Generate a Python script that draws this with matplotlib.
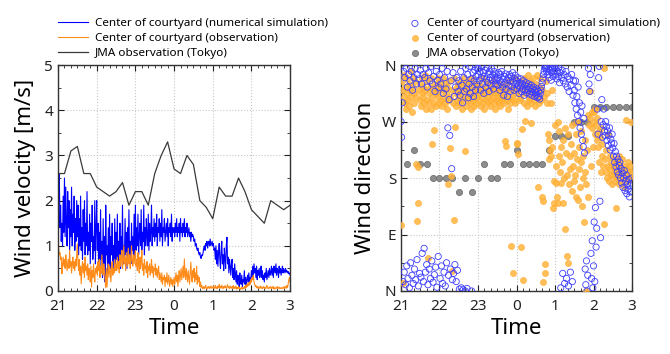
import matplotlib.pyplot as plt
from matplotlib.ticker import MultipleLocator
import numpy as np

plt.rcParams['font.family'] = ['Noto Sans', 'DejaVu Sans']

# wind velocity [m/s], one value per minute from 21:00 to 3:00
sim_speed = [
    1.3, 2.2, 2.6, 1.4, 1.9, 1.1, 1.5, 1.0, 2.1, 1.3, 2.5, 1.2, 2.3, 1.5, 1.0, 2.2, 1.4, 2.0, 0.9, 1.8, 1.2, 2.3, 1.0, 1.7, 1.3, 2.1, 0.9, 1.6, 1.1, 2.0,
    1.2, 1.9, 0.8, 1.6, 1.0, 2.1, 0.9, 1.4, 0.7, 1.8, 1.1, 2.0, 0.8, 1.5, 1.0, 2.2, 0.8, 1.3, 0.9, 1.7, 0.6, 1.5, 1.1, 1.9, 0.7, 1.2, 0.9, 2.0, 0.6, 1.4,
    2.0, 0.9, 1.5, 0.5, 1.3, 0.7, 1.8, 0.4, 1.1, 0.3, 1.6, 0.6, 1.2, 0.2, 1.9, 0.8, 1.0, 0.4, 1.4, 0.6, 1.7, 0.5, 1.2, 0.8, 1.5, 0.4, 1.0, 0.7, 1.6, 0.6,
    1.3, 0.7, 1.7, 0.6, 1.1, 0.8, 1.5, 0.5, 1.2, 0.9, 1.9, 0.6, 1.0, 0.7, 1.6, 0.8, 1.3, 0.5, 1.4, 0.9, 1.8, 0.7, 1.1, 0.6, 1.5, 0.9, 1.2, 0.8, 1.7, 0.7,
    1.9, 0.9, 1.4, 1.0, 1.7, 0.8, 1.2, 1.5, 1.0, 1.8, 0.9, 1.3, 1.1, 1.9, 0.8, 1.4, 1.0, 1.6, 1.2, 1.0, 1.7, 0.9, 1.5, 1.1, 1.3, 1.9, 1.0, 1.4, 1.2, 1.6,
    1.1, 1.5, 1.2, 1.7, 1.0, 1.4, 1.3, 1.6, 1.1, 1.5, 1.2, 1.8, 1.0, 1.4, 1.3, 1.6, 1.1, 1.3, 1.5, 1.2, 1.6, 1.0, 1.4, 1.3, 1.5, 1.2, 1.7, 1.1, 1.4, 1.3,
    1.4, 1.2, 1.5, 1.3, 1.6, 1.2, 1.4, 1.3, 1.5, 1.1, 1.6, 1.3, 1.4, 1.2, 1.5, 1.3, 1.6, 1.2, 1.4, 1.3, 1.5, 1.2, 1.3, 1.4, 1.2, 1.3, 1.1, 1.3, 1.2, 1.25,
    1.2, 1.1, 1.15, 1.0, 1.05, 0.95, 0.9, 0.95, 0.85, 0.8, 0.85, 0.75, 0.72, 0.8, 0.78, 0.85, 0.95, 1.0, 0.9, 1.05, 1.0, 1.1, 0.95, 1.05, 1.1, 1.0, 1.15, 1.0, 1.05, 1.1,
    1.0, 1.05, 0.9, 0.95, 0.7, 1.0, 0.6, 0.9, 0.55, 0.85, 1.05, 0.7, 0.5, 0.9, 1.1, 0.6, 0.8, 0.45, 0.95, 0.7, 0.5, 1.0, 1.19, 0.6, 0.75, 0.4, 0.7, 0.55, 0.35, 0.6,
    0.7, 0.3, 0.5, 0.25, 0.6, 0.4, 0.2, 0.45, 0.15, 0.35, 0.3, 0.1, 0.4, 0.2, 0.15, 0.35, 0.1, 0.25, 0.2, 0.45, 0.15, 0.3, 0.1, 0.25, 0.35, 0.2, 0.4, 0.15, 0.3, 0.25,
    0.45, 0.3, 0.55, 0.35, 0.6, 0.4, 0.5, 0.3, 0.55, 0.25, 0.45, 0.35, 0.5, 0.3, 0.4, 0.55, 0.3, 0.45, 0.25, 0.35, 0.2, 0.4, 0.3, 0.5, 0.25, 0.35, 0.45, 0.3, 0.5, 0.35,
    0.4, 0.55, 0.35, 0.5, 0.3, 0.55, 0.45, 0.4, 0.6, 0.35, 0.5, 0.45, 0.3, 0.55, 0.4, 0.5, 0.35, 0.45, 0.55, 0.4, 0.5, 0.45, 0.4, 0.5, 0.42, 0.45, 0.4, 0.43, 0.38, 0.4,
    0.35]
obs_speed = [
    1.1, 0.95, 0.8, 0.85, 0.7, 0.75, 0.38, 0.6, 0.75, 0.55, 0.7, 0.5, 0.8, 0.65, 0.45, 0.6, 0.7, 0.5, 0.9, 0.55, 0.65, 0.4, 0.6, 0.75, 0.5, 0.65, 0.45, 0.7, 0.55, 0.8,
    1.04, 0.6, 0.45, 0.7, 0.35, 0.55, 0.16, 0.5, 0.65, 0.4, 0.6, 0.3, 0.75, 0.45, 0.55, 0.35, 0.6, 0.25, 0.5, 0.4, 0.2, 0.55, 0.09, 0.45, 0.3, 0.6, 0.35, 0.2, 0.5, 0.4,
    0.55, 0.35, 0.64, 0.45, 0.7, 0.3, 0.55, 0.4, 0.8, 0.5, 0.35, 0.6, 0.45, 0.25, 0.07, 0.5, 0.09, 0.4, 0.6, 0.3, 0.55, 0.45, 0.2, 0.5, 0.65, 0.35, 0.5, 0.4, 0.7, 0.45,
    0.6, 0.45, 0.75, 0.5, 0.65, 0.4, 0.8, 0.55, 0.7, 0.9, 0.5, 0.65, 1.0, 0.6, 0.75, 0.45, 0.85, 0.7, 0.55, 0.95, 0.6, 0.8, 0.5, 0.7, 1.0, 0.65, 0.55, 0.8, 0.6, 0.75,
    0.9, 0.55, 0.7, 0.45, 0.85, 0.6, 0.4, 0.75, 0.5, 0.65, 0.9, 0.45, 0.6, 0.35, 0.7, 0.5, 0.55, 0.4, 0.65, 0.3, 0.55, 0.45, 0.6, 0.35, 0.5, 0.7, 0.4, 0.55, 0.3, 0.5,
    0.45, 0.6, 0.35, 0.5, 0.3, 0.45, 0.55, 0.25, 0.4, 0.3, 0.2, 0.4, 0.15, 0.3, 0.25, 0.35, 0.1, 0.3, 0.2, 0.4, 0.15, 0.25, 0.35, 0.1, 0.2, 0.3, 0.15, 0.25, 0.1, 0.2,
    0.3, 0.15, 0.25, 0.4, 0.2, 0.35, 0.1, 0.3, 0.45, 0.2, 0.35, 0.5, 0.25, 0.4, 0.55, 0.3, 0.71, 0.4, 0.25, 0.5, 0.35, 0.2, 0.45, 0.3, 0.15, 0.4, 0.64, 0.35, 0.2, 0.45,
    0.3, 0.5, 0.2, 0.4, 0.25, 0.55, 0.15, 0.35, 0.2, 0.3, 0.1, 0.2, 0.08, 0.12, 0.05, 0.06, 0.1, 0.05, 0.08, 0.12, 0.06, 0.04, 0.09, 0.07, 0.1, 0.05, 0.08, 0.11, 0.06, 0.09,
    0.07, 0.1, 0.05, 0.08, 0.12, 0.06, 0.09, 0.05, 0.11, 0.08, 0.15, 0.07, 0.1, 0.06, 0.13, 0.09, 0.05, 0.1, 0.07, 0.12, 0.08, 0.06, 0.1, 0.14, 0.07, 0.09, 0.05, 0.11, 0.08, 0.06,
    0.1, 0.07, 0.12, 0.05, 0.09, 0.06, 0.11, 0.04, 0.08, 0.06, 0.1, 0.05, 0.07, 0.03, 0.06, 0.09, 0.04, 0.07, 0.05, 0.1, 0.06, 0.12, 0.08, 0.15, 0.1, 0.18, 0.12, 0.2, 0.15, 0.25,
    0.2, 0.3, 0.25, 0.35, 0.2, 0.15, 0.1, 0.12, 0.08, 0.1, 0.06, 0.09, 0.05, 0.08, 0.11, 0.06, 0.09, 0.05, 0.07, 0.1, 0.06, 0.08, 0.05, 0.09, 0.12, 0.07, 0.05, 0.08, 0.06, 0.1,
    0.07, 0.05, 0.09, 0.06, 0.1, 0.04, 0.07, 0.05, 0.08, 0.06, 0.1, 0.05, 0.07, 0.09, 0.05, 0.06, 0.08, 0.05, 0.07, 0.06, 0.09, 0.05, 0.1, 0.07, 0.06, 0.12, 0.08, 0.15, 0.25, 0.3,
    0.2]
# JMA Tokyo, every 10 minutes
jma_speed = [2.6, 2.6, 3.1, 3.2, 2.6, 2.6, 2.3, 2.2, 2.1, 2.2, 2.4, 1.9, 2.2, 2.2, 1.9, 2.6, 3.0, 3.3, 2.7,
             2.6, 3.0, 2.8, 2.0, 1.85, 1.6, 2.3, 2.1, 2.1, 2.5, 2.2, 1.8, 1.65, 1.5, 2.0, 1.9, 1.8, 1.9]

# wind direction [deg, 0 = N, 90 = E], one value per minute
sim_dir = [
    270, 245, 300, 15, 350, 30, 340, 10, 355, 40, 325, 20, 345, 5, 335, 45, 350, 25, 320, 12, 340, 35, 355, 18, 330, 50, 345, 8, 338, 28,
    352, 22, 330, 60, 345, 15, 68, 340, 30, 355, 42, 325, 10, 348, 35, 335, 20, 358, 48, 330, 14, 342, 26, 318, 38, 350, 6, 336, 55, 324,
    345, 20, 330, 40, 355, 12, 315, 30, 340, 8, 322, 45, 350, 260, 25, 305, 248, 35, 335, 195, 18, 348, 28, 310, 42, 325, 15, 340, 33, 318,
    335, 3, 312, 350, 5, 328, 300, 2, 340, 318, 0, 355, 322, 4, 345, 308, 330, 358, 315, 338, 0, 325, 348, 310, 335, 352, 320, 342, 330, 355,
    345, 355, 335, 350, 320, 340, 358, 330, 348, 315, 342, 352, 325, 338, 356, 332, 345, 318, 350, 340, 328, 355, 336, 344, 322, 350, 338, 330, 346, 335,
    340, 328, 348, 335, 320, 345, 332, 350, 325, 338, 312, 342, 330, 346, 322, 336, 310, 340, 328, 345, 318, 335, 342, 326, 348, 332, 320, 338, 344, 330,
    335, 322, 340, 328, 315, 332, 325, 338, 318, 330, 322, 335, 312, 328, 320, 332, 316, 326, 322, 330, 314, 324, 318, 328, 312, 322, 316, 325, 310, 320,
    316, 312, 322, 308, 318, 310, 306, 315, 320, 326, 332, 338, 345, 350, 356, 360, 355, 350, 358, 345, 354, 340, 352, 358, 336, 348, 355, 342, 350, 358,
    355, 345, 360, 338, 350, 342, 356, 332, 348, 5, 340, 352, 28, 335, 345, 12, 330, 350, 20, 325, 342, 8, 318, 338, 30, 328, 345, 15, 312, 335,
    320, 300, 335, 290, 310, 280, 325, 270, 300, 260, 285, 250, 295, 240, 230, 275, 220, 35, 10, 48, 0, 25, 355, 330, 318, 345, 60, 20, 80, 5,
    40, 110, 15, 133, 70, 100, 290, 250, 340, 358, 143, 85, 270, 305, 245, 265, 290, 255, 248, 270, 262, 240, 255, 232, 248, 260, 225, 242, 236, 250,
    228, 215, 235, 205, 222, 198, 215, 190, 210, 185, 200, 205, 180, 195, 172, 188, 165, 180, 192, 160, 175, 185, 155, 170, 162, 178, 150, 168, 158, 172,
    180]
obs_dir = [
    105, 320, 335, 13, 310, 345, 300, 325, 290, 315, 340, 305, 330, 295, 320, 350, 310, 285, 325, 340, 300, 315, 335, 202, 310, 112, 198, 141, 320, 305,
    330, 295, 315, 340, 310, 325, 300, 345, 320, 290, 305, 335, 53, 315, 300, 325, 290, 340, 310, 234, 320, 256, 300, 330, 315, 295, 325, 310, 340, 300,
    318, 335, 305, 325, 295, 340, 310, 320, 300, 330, 315, 290, 325, 171, 305, 335, 228, 310, 183, 320, 32, 300, 340, 113, 262, 315, 295, 325, 305, 330,
    310, 320, 300, 335, 315, 290, 325, 305, 340, 223, 310, 330, 295, 320, 305, 315, 335, 300, 325, 290, 310, 340, 305, 320, 295, 330, 315, 300, 325, 310,
    320, 305, 330, 315, 295, 325, 310, 340, 300, 320, 290, 315, 335, 305, 325, 310, 300, 330, 295, 320, 315, 305, 325, 310, 335, 300, 320, 290, 315, 305,
    325, 310, 300, 330, 315, 295, 320, 305, 310, 325, 300, 315, 239, 330, 231, 305, 320, 290, 310, 335, 300, 320, 72, 310, 29, 325, 305, 340, 300, 315,
    236, 234, 219, 320, 335, 305, 310, 70, 258, 325, 18, 300, 340, 271, 315, 330, 295, 320, 345, 305, 310, 335, 268, 300, 325, 315, 340, 305, 320, 295,
    330, 310, 345, 165, 315, 300, 325, 340, 305, 320, 150, 14, 143, 310, 43, 29, 335, 300, 315, 250, 240, 210, 225, 300, 215, 320, 230, 133, 175, 140,
    265, 200, 172, 150, 270, 140, 255, 215, 190, 230, 172, 205, 240, 141, 180, 260, 99, 220, 185, 56, 250, 45, 170, 215, 195, 235, 160, 265, 200, 175,
    220, 185, 250, 150, 210, 270, 145, 195, 230, 165, 205, 255, 135, 215, 180, 110, 240, 190, 0, 170, 225, 280, 150, 265, 318, 275, 200, 285, 260, 230,
    270, 285, 250, 290, 265, 240, 275, 230, 255, 205, 245, 190, 260, 215, 235, 200, 107, 355, 210, 190, 225, 180, 200, 250, 175, 195, 215, 185, 205, 170,
    200, 185, 210, 175, 195, 133, 205, 180, 190, 215, 170, 200, 185, 195, 175, 210, 190, 165, 200, 180, 272, 185, 195, 175, 205, 190, 180, 200, 185, 270,
    190]
jma_dir = [np.nan, 202.5, 225, 202.5, 202.5, 180, 180, 180, 180, 157.5, 180, 157.5, 180, 202.5, 180, 180, 202.5, 202.5, 225,
           202.5, 202.5, 202.5, 202.5, 225, 247.5, 247.5, 247.5, 270, 270, 270,
           292.5, 292.5, 292.5, 292.5, 292.5, 292.5, 292.5]

hour_ticks = [21, 22, 23, 24, 25, 26, 27]
hour_labels = ['21', '22', '23', '0', '1', '2', '3']
dir_ticks = [0, 90, 180, 270, 360]
dir_labels = ['N', 'E', 'S', 'W', 'N']
names = ['Center of courtyard (numerical simulation)',
         'Center of courtyard (observation)',
         'JMA observation (Tokyo)']

t_sim = 21 + np.arange(len(sim_speed)) / 60
t_obs = 21 + np.arange(len(obs_speed)) / 60
t_jma = 21 + np.arange(len(jma_speed)) / 6
t_sdir = 21 + np.arange(len(sim_dir)) / 60
t_odir = 21 + np.arange(len(obs_dir)) / 60
t_jdir = 21 + np.arange(len(jma_dir)) / 6

fig = plt.figure(figsize=(6.7, 3.54), dpi=100)
ax1 = fig.add_axes([0.0866, 0.178, 0.3464, 0.638])
ax2 = fig.add_axes([0.5985, 0.178, 0.3448, 0.638])

# left: wind velocity
ax1.plot(t_sim, sim_speed, color='#0000ff', lw=0.8, label=names[0])
ax1.plot(t_obs, obs_speed, color='#ff8c1a', lw=0.8, label=names[1])
ax1.plot(t_jma, jma_speed, color='#3a3a3a', lw=0.9, label=names[2])
ax1.set_ylim(0, 5)
ax1.yaxis.set_major_locator(MultipleLocator(1))
ax1.yaxis.set_minor_locator(MultipleLocator(0.5))
ax1.set_ylabel('Wind velocity [m/s]', fontsize=16, labelpad=6)

# right: wind direction
ax2.scatter(t_sdir, sim_dir, s=20, facecolors='none', edgecolors='#3d3dff', linewidths=0.6,
            label=names[0], zorder=4)
ax2.scatter(t_odir, obs_dir, s=20, color='#ffb43c', edgecolors='#ffa726', linewidths=0.4,
            alpha=0.85, label=names[1], zorder=3)
ax2.scatter(t_jdir, jma_dir, s=20, color='#8c8c8c', edgecolors='#666666', linewidths=0.5,
            label=names[2], zorder=2)
ax2.set_ylim(0, 360)
ax2.set_yticks(dir_ticks)
ax2.set_yticklabels(dir_labels)
ax2.yaxis.set_minor_locator(MultipleLocator(45))
ax2.set_ylabel('Wind direction', fontsize=16, labelpad=4)

for ax in (ax1, ax2):
    ax.set_xlim(21, 27)
    ax.set_xticks(hour_ticks)
    ax.set_xticklabels(hour_labels)
    ax.xaxis.set_minor_locator(MultipleLocator(1 / 6))
    ax.set_xlabel('Time', fontsize=16, labelpad=3)
    ax.grid(True, which='major', color='#c8c8c8', ls=':', lw=0.8)
    ax.set_axisbelow(True)
    ax.tick_params(which='both', direction='in', top=True, right=True, labelsize=11, colors='#222222')
    ax.tick_params(which='major', length=4)
    ax.tick_params(which='minor', length=2)
    ax.tick_params(axis='x', pad=6)
    for sp in ax.spines.values():
        sp.set_color('#333333')
        sp.set_linewidth(1.0)

ax1.legend(loc='lower left', bbox_to_anchor=(0, 1.028), frameon=False, fontsize=8.4,
           handlelength=2.6, handletextpad=0.6, labelspacing=0.3, borderpad=0, borderaxespad=0)
ax2.legend(loc='lower left', bbox_to_anchor=(0.035, 1.028), frameon=False, fontsize=8.4,
           handlelength=1.0, handletextpad=0.5, labelspacing=0.3, borderpad=0, borderaxespad=0,
           scatterpoints=1)

fig.savefig('out.png', dpi=100)
